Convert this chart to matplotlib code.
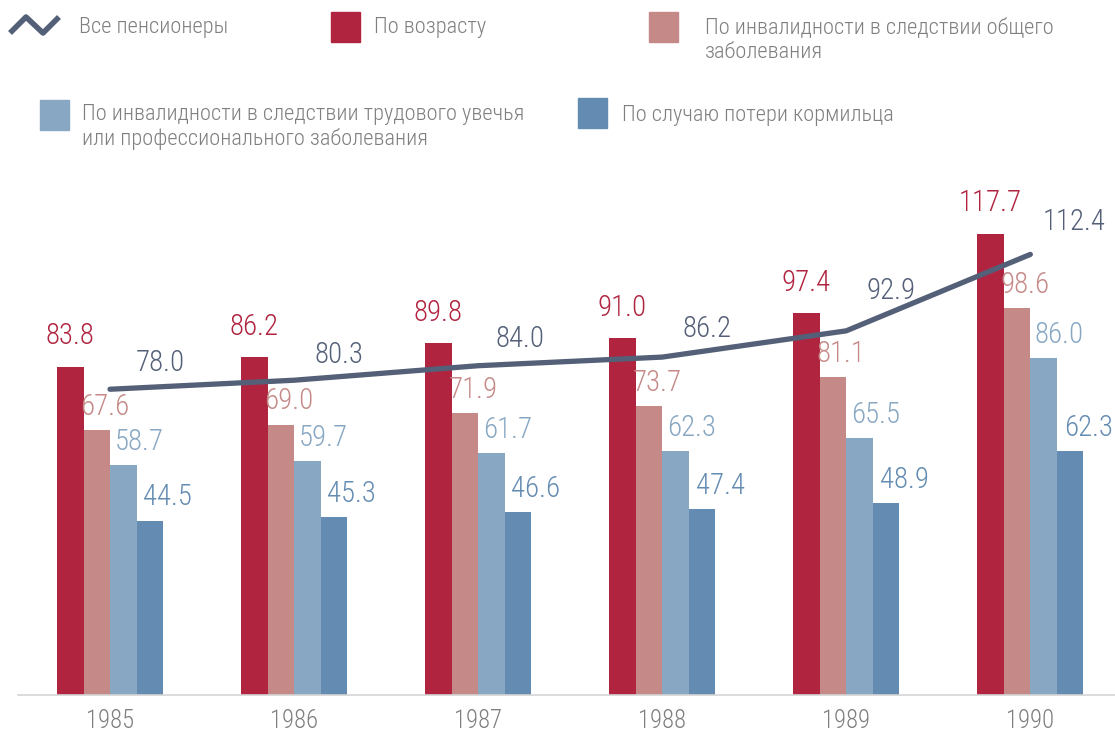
import matplotlib
matplotlib.use('Agg')
import matplotlib.pyplot as plt
from matplotlib.patches import Rectangle
from matplotlib import font_manager as fm
from matplotlib.textpath import TextPath
import numpy as np

# Data
years = ['1985', '1986', '1987', '1988', '1989', '1990']
by_age = [83.8, 86.2, 89.8, 91.0, 97.4, 117.7]
disab_general = [67.6, 69.0, 71.9, 73.7, 81.1, 98.6]
disab_work = [58.7, 59.7, 61.7, 62.3, 65.5, 86.0]
breadwinner = [44.5, 45.3, 46.6, 47.4, 48.9, 62.3]
all_pens = [78.0, 80.3, 84.0, 86.2, 92.9, 112.4]

series_names = ['По возрасту',
                'По инвалидности в следствии общего\nзаболевания',
                'По инвалидности в следствии трудового увечья\nили профессионального заболевания',
                'По случаю потери кормильца']
line_name = 'Все пенсионеры'

# where the line labels sit relative to each point (pixels)
line_lab_dx = [50, 45, 42, 45, 45, 44]
line_lab_dy = [18, 17, 19, 20, 32, 24]

# look for a narrow font on the system
wanted = ['RobotoCondensed-Light', 'RobotoCondensed-Regular', 'LiberationSansNarrow-Regular',
          'DejaVuSansCondensed.ttf', 'OpenSans_Condensed-Regular', 'OpenSans-CondensedLight',
          'NotoSans-CondensedLight', 'NotoSans-Condensed.', 'Roboto-Light', 'Lato-Light']
files = [f.fname for f in fm.fontManager.ttflist]
font_file = None
for key in wanted:
    hits = [f for f in files if key in f.split('/')[-1]]
    if hits:
        font_file = hits[0]
        break
if font_file:
    fp = fm.FontProperties(fname=font_file)
else:
    fp = fm.FontProperties(family='DejaVu Sans')


def fit_size(sample, target_px, max_size):
    w = TextPath((0, 0), sample, size=10, prop=fp).get_extents().width
    return min(max_size, 10 * target_px * 0.72 / w)


val_size = fit_size('83.8', 46, 21)
year_size = fit_size('1985', 45, 18)
leg_size = fit_size(line_name, 145, 20)

red = '#b0243f'
pink = '#c58a88'
lblue = '#87a7c3'
blue = '#648cb2'
dark = '#545f78'
grey = '#7f7f7f'

fig = plt.figure(figsize=(11.15, 7.32), dpi=100)
ax = fig.add_axes([18/1115, 37/732, 1 - 18/1115, (695 - 170)/732])

x = np.arange(len(years))
w = 0.144
bar_sets = [(by_age, red, (0, 16)), (disab_general, pink, (6, 11)),
            (disab_work, lblue, (11.5, 11)), (breadwinner, blue, (13, 11))]
for i, (vals, col, off) in enumerate(bar_sets):
    xs = x + (i - 1.5) * w
    ax.bar(xs, vals, width=w, color=col, edgecolor='none', zorder=2)
    for xi, v in zip(xs, vals):
        ax.annotate(f'{v:.1f}', (xi, v), xytext=off, textcoords='offset points',
                    ha='center', va='baseline', fontproperties=fp, fontsize=val_size, color=col)

ax.plot(x, all_pens, color=dark, lw=3.8, solid_capstyle='round',
        solid_joinstyle='round', zorder=3)
for xi, v, dx, dy in zip(x, all_pens, line_lab_dx, line_lab_dy):
    ax.annotate(f'{v:.1f}', (xi, v), xytext=(dx * 0.72, dy * 0.72), textcoords='offset points',
                ha='center', va='baseline', fontproperties=fp, fontsize=val_size, color=dark)

ax.set_xlim(-0.5, 5.46)
ax.set_ylim(0, 525/3.92)
ax.set_xticks(x)
ax.set_xticklabels(years, fontproperties=fp, fontsize=year_size, color=grey)
ax.tick_params(axis='x', length=0, pad=10)
ax.set_yticks([])
for s in ['top', 'right', 'left']:
    ax.spines[s].set_visible(False)
ax.spines['bottom'].set_color('#d4d4d4')
ax.spines['bottom'].set_linewidth(1.2)

# Legend drawn in pixel coordinates
lg = fig.add_axes([0, 0, 1, 1], zorder=-1)
lg.set_xlim(0, 1115)
lg.set_ylim(732, 0)
lg.axis('off')
lg.plot([10, 26, 43, 59], [33, 17, 33, 17], color=dark, lw=4, solid_capstyle='butt')
lg.text(79, 27, line_name, fontproperties=fp, fontsize=leg_size, color=grey,
        va='center', ha='left')
legend_items = [(331, 12, red, 374, 27, series_names[0]),
                (649, 12, pink, 705, 40, series_names[1]),
                (40, 100, lblue, 82, 127, series_names[2]),
                (578, 98, blue, 622, 115, series_names[3])]
for sx, sy, col, tx, ty, name in legend_items:
    lg.add_patch(Rectangle((sx, sy), 29, 30, color=col))
    lg.text(tx, ty, name, fontproperties=fp, fontsize=leg_size, color=grey,
            va='center', ha='left', linespacing=1.2)

fig.savefig('out.png', dpi=100)
